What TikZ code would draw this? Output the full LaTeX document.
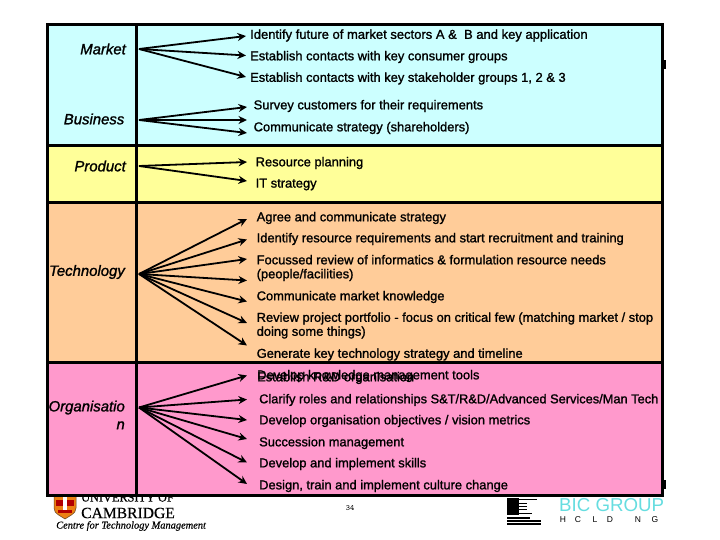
\documentclass[tikz,border=0pt]{standalone}
\usepackage{fontspec}
\usepackage{xcolor}
\setmainfont{Liberation Sans}
\newfontfamily\lblfont[FakeBold=1.3]{Liberation Sans}
\newfontfamily\catfont[FakeBold=1.3,ItalicFont={Liberation Sans Italic},ItalicFeatures={FakeBold=1.3}]{Liberation Sans}
\newfontfamily\univfont[FakeBold=0.4]{Liberation Serif}
\usetikzlibrary{arrows.meta,positioning,calc}
\definecolor{bandcyan}{HTML}{CCFFFF}
\definecolor{bandyellow}{HTML}{FFFF99}
\definecolor{bandorange}{HTML}{FFCC99}
\definecolor{bandpink}{HTML}{FF99CC}
\definecolor{logocyan}{HTML}{66DDE0}
\tikzset{
  band/.style={draw=black, line width=3pt},
  cat/.style={anchor=east, align=right, inner sep=0pt,
    font=\fontsize{14.9}{18}\catfont\itshape},
  task/.style={anchor=west, align=left, inner sep=0pt,
    font=\fontsize{12.9}{14}\lblfont},
  flow/.style={-{Stealth[length=8.5pt,width=8pt]}, line width=1.8pt},
  univ/.style={anchor=west, inner sep=0pt, font=\univfont},
  holdch/.style={inner sep=0pt, font=\fontsize{8.5}{10}\selectfont}
}
\begin{document}
\begin{tikzpicture}[x=1pt, y=-1pt]
  \useasboundingbox (0,0) rectangle (720,540);
  \fill[white] (0,0) rectangle (720,540);
  \node[univ, font=\fontsize{12.3}{14}\univfont] (univ) at (81,497.5) {UNIVERSITY OF};
  \node[univ, font=\fontsize{15.6}{17}\univfont] (cam) at (81,513) {CAMBRIDGE};
  \node[univ, font=\fontsize{10.4}{11}\univfont\itshape] (ctm) at (56,526) {Centre for Technology Management};
  \filldraw[draw=black!50!brown, fill=orange!70!brown, line width=.5pt]
    (54,495) -- (76,495) -- (76,508) .. controls (76,514) and (69,516) .. (65,519)
    .. controls (61,516) and (54,514) .. (54,508) -- cycle;
  \fill[red!70!black] (56,500) rectangle (63,506);
  \fill[red!70!black] (67,500) rectangle (74,506);
  \fill[white] (63,497) rectangle (67,512);
  \fill[red!70!black] (58,510) rectangle (72,513);

  \node[inner sep=0pt, font=\fontsize{8}{9}\ttfamily] (pageno) at (350,508) {34};

  \fill (507,498) -- (519,498) -- (519,515) -- (507,515) -- cycle;
  \foreach \y/\e in {499/537,503/527,506/527,509/527,513/532}{
    \draw[line width=1pt] (519,\y) -- (\e,\y);
  }
  \foreach \y/\e in {518/530,521/541,524/541}{
    \draw[line width=1.2pt] (507,\y) -- (\e,\y);
  }
  \node[anchor=west, inner sep=0pt, text=logocyan, font=\fontsize{18.7}{22}\selectfont] (bic) at (559,505) {BIC GROUP};
  \foreach \i/\x/\ch in {1/563/H,2/578/C,3/595/L,4/610/D,5/638/N,6/655/G}{
    \node[holdch] (hold\i) at (\x,520) {\ch};
  }
  \fill (662,60) rectangle (666,69);
  \fill (662,480) rectangle (666,489);

  \foreach \ya/\yb/\col in {25/146/bandcyan,146/203/bandyellow,203/362/bandorange,362/495/bandpink}{
    \draw[band, fill=\col] (47,\ya) rectangle (136.5,\yb);
    \draw[band, fill=\col] (136.5,\ya) rectangle (662,\yb);
  }

  \node[cat] (market) at (126,49) {Market};
  \node[cat] (business) at (124.5,119) {Business};
  \node[cat] (product) at (126,166) {Product};
  \node[cat] (technology) at (125,272) {Technology};
  \node[cat] (organisation) at (125,415) {Organisatio\\n};

  \coordinate (mksrc) at (139,49);
  \coordinate (busrc) at (139,120);
  \coordinate (prsrc) at (139,166);
  \coordinate (tesrc) at (139,274);
  \coordinate (orsrc) at (139,407.5);
  \foreach \n/\y in {1/36,2/55.5,3/77}{
    \coordinate (mk\n) at (246,\y);
    \draw[flow] (mksrc) -- (mk\n);
  }
  \foreach \n/\y in {1/107,2/120,3/133}{
    \coordinate (bu\n) at (247,\y);
    \draw[flow] (busrc) -- (bu\n);
  }
  \foreach \n/\y in {1/162,2/181}{
    \coordinate (pr\n) at (247,\y);
    \draw[flow] (prsrc) -- (pr\n);
  }
  \foreach \n/\y in {1/219,2/239.5,3/259,4/280.5,5/301.5,6/323,7/345.5}{
    \coordinate (te\n) at (247,\y);
    \draw[flow] (tesrc) -- (te\n);
  }
  \foreach \n/\y in {1/375.5,2/399.5,3/420,4/439,5/462.5,6/484}{
    \coordinate (or\n) at (247,\y);
    \draw[flow] (orsrc) -- (or\n);
  }

  \node[task, font=\fontsize{13}{14}\lblfont] (t1) at (250,35.5) {Identify future of market sectors A \&\ \ B and key application};
  \node[task] (t2) at (250,57) {Establish contacts with key consumer groups};
  \node[task] (t3) at (250,78.5) {Establish contacts with key stakeholder groups 1, 2 \& 3};
  \node[task] (t4) at (253.5,106) {Survey customers for their requirements};
  \node[task] (t5) at (253.5,128) {Communicate strategy (shareholders)};
  \node[task] (t6) at (255.5,163) {Resource planning};
  \node[task] (t7) at (255.5,184.5) {IT strategy};
  \node[task] (t8) at (256.5,218) {Agree and communicate strategy};
  \node[task] (t9) at (256.5,239) {Identify resource requirements and start recruitment and training};
  \node[task] (t10) at (256.5,268) {Focussed review of informatics \& formulation resource needs\\(people/facilities)};
  \node[task] (t11) at (256.5,297) {Communicate market knowledge};
  \node[task] (t12) at (256.5,325.5) {Review project portfolio - focus on critical few (matching market / stop\\doing some things)};
  \node[task] (t13) at (256.5,354.5) {Generate key technology strategy and timeline};
  \node[task] (t14) at (257,376) {Develop knowledge management tools};
  \node[task] (t15) at (257,378) {Establish R\&D organisation};
  \node[task, font=\fontsize{12.8}{14}\lblfont] (t16) at (259,400) {Clarify roles and relationships S\&T/R\&D/Advanced Services/Man Tech};
  \node[task] (t17) at (259,421) {Develop organisation objectives / vision metrics};
  \node[task] (t18) at (259,443) {Succession management};
  \node[task] (t19) at (259,464) {Develop and implement skills};
  \node[task] (t20) at (259,486) {Design, train and implement culture change};
\end{tikzpicture}
\end{document}
